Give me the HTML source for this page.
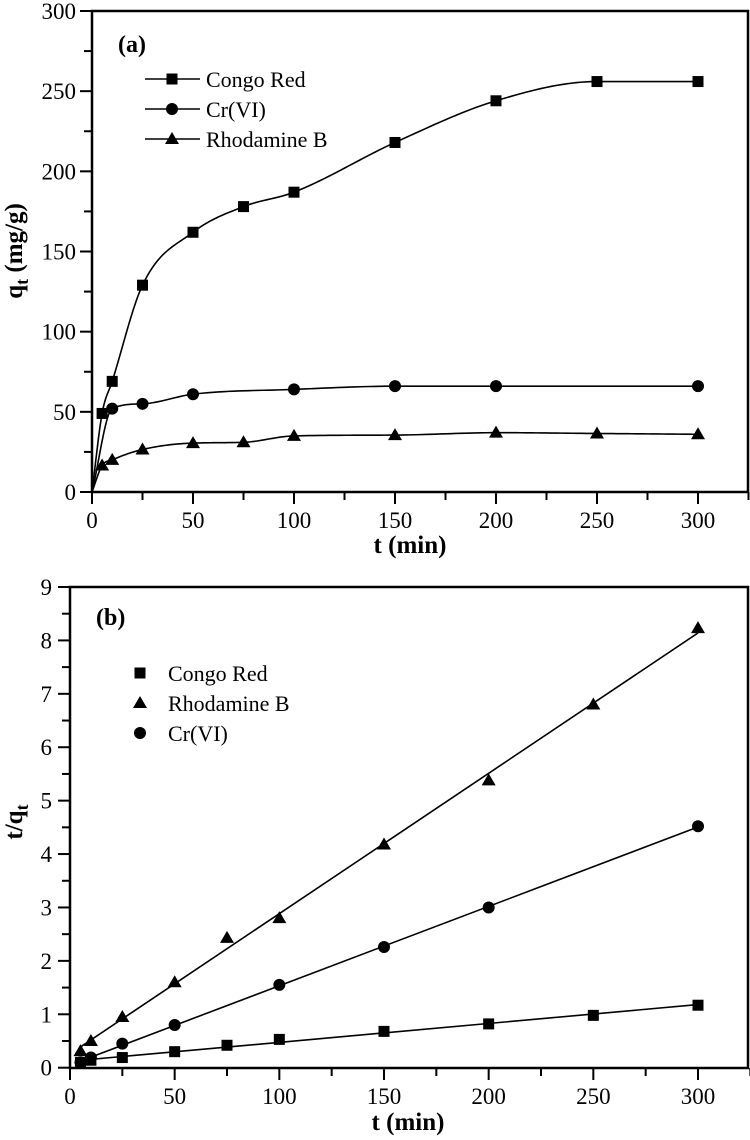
<!DOCTYPE html>
<html><head><meta charset="utf-8"><style>
html,body{margin:0;padding:0;background:#fff;}
svg{display:block;font-family:"Liberation Serif",serif;}
</style></head><body>
<svg id="chart" width="750" height="1140" viewBox="0 0 750 1140" xmlns="http://www.w3.org/2000/svg"></svg>
<script>
// ---- Panel (a) data ----
const aCongoT = [0,5,10,25,50,75,100,150,200,250,300];
const aCongoQ = [0,49,69,129,162,178,187,218,244,256,256];
const aCrT = [0,10,25,50,100,150,200,300];
const aCrQ = [0,52,55,61,64,66,66,66];
const aRhT = [0,5,10,25,50,75,100,150,200,250,300];
const aRhQ = [0,16.5,20,26.5,30.5,31,35,35.5,37,36.5,36];
const aXTicks = [0,50,100,150,200,250,300];
const aYTicks = [0,50,100,150,200,250,300];
// ---- Panel (b) data ----
const bT = [5,10,25,50,75,100,150,200,250,300];
const bCongo = [0.1,0.14,0.19,0.3,0.42,0.53,0.68,0.82,0.98,1.17];
const bRhT = [5,10,25,50,75,100,150,200,250,300];
const bRh = [0.31,0.5,0.95,1.6,2.43,2.8,4.18,5.38,6.8,8.23];
const bCrT = [5,10,25,50,100,150,200,300];
const bCr = [0.1,0.19,0.45,0.8,1.55,2.26,3.0,4.52];
const bXTicks = [0,50,100,150,200,250,300];
const bYTicks = [0,1,2,3,4,5,6,7,8,9];

const svg = document.getElementById('chart');
const NS = 'http://www.w3.org/2000/svg';
function mk(tag, attrs, parent){ const e=document.createElementNS(NS,tag); for(const k in attrs) e.setAttribute(k,attrs[k]); (parent||svg).appendChild(e); return e; }

const ax = t => 92 + t*(698-92)/300;
const ay = q => 492 - q*(492-11)/300;
const bx = t => 70 + t*(698-70)/300;
const by = v => 1067.7 - v*(1067.7-587)/9;

function marker(type,x,y,g){
  if(type==='sq') return mk('rect',{x:x-5.5,y:y-5.5,width:11,height:11,fill:'#000'},g);
  if(type==='ci') return mk('circle',{cx:x,cy:y,r:6,fill:'#000'},g);
  return mk('polygon',{points:`${x},${y-7} ${x+7},${y+5} ${x-7},${y+5}`,fill:'#000'},g);
}
// monotone cubic (Fritsch-Carlson) in data space, sampled
function monotonePath(T,Q,fx,fy){
  const n=T.length, d=[], m=new Array(n);
  for(let i=0;i<n-1;i++) d.push((Q[i+1]-Q[i])/(T[i+1]-T[i]));
  m[0]=d[0]; m[n-1]=d[n-2];
  for(let i=1;i<n-1;i++){ m[i]=(d[i-1]*d[i]<=0)?0:(d[i-1]+d[i])/2; }
  for(let i=0;i<n-1;i++){
    if(d[i]===0){m[i]=0;m[i+1]=0;continue;}
    const a=m[i]/d[i], b=m[i+1]/d[i], s=a*a+b*b;
    if(s>9){const tt=3/Math.sqrt(s); m[i]=tt*a*d[i]; m[i+1]=tt*b*d[i];}
  }
  let p=`M${fx(T[0])},${fy(Q[0])}`;
  for(let i=0;i<n-1;i++){
    const h=T[i+1]-T[i];
    for(let k=1;k<=20;k++){
      const s=k/20, h00=2*s*s*s-3*s*s+1, h10=s*s*s-2*s*s+s, h01=-2*s*s*s+3*s*s, h11=s*s*s-s*s;
      const v=h00*Q[i]+h10*h*m[i]+h01*Q[i+1]+h11*h*m[i+1];
      p+=` L${fx(T[i]+s*h).toFixed(2)},${fy(v).toFixed(2)}`;
    }
  }
  return p;
}
function frame(name,L,T,R,B){
  const f=mk('rect',{x:L,y:T,width:R-L,height:B-T,fill:'none',stroke:'#000','stroke-width':2.5});
  
  
}
function text(str,x,y,size,opts){
  const t=mk('text',Object.assign({x:x,y:y,'font-size':size,fill:'#000'},opts||{}));
  t.textContent=str; return t;
}

// ---------- Panel (a) ----------
frame('plot-frame-a',92,11,748,492);
const gAX=mk('g',{});


for(let t=0;t<=325;t+=25){
  const major=t%50===0;
  mk('line',{x1:ax(t),x2:ax(t),y1:492,y2:492+(major?12:8),stroke:'#000','stroke-width':2},gAX);
}
aXTicks.forEach(t=>{ const e=text(t,ax(t),528,23,{'text-anchor':'middle'}); gAX.appendChild(e);
    });
const gAY=mk('g',{});


for(let q=0;q<=300;q+=25){
  const major=q%50===0;
  mk('line',{x1:92,x2:92-(major?12:8),y1:ay(q),y2:ay(q),stroke:'#000','stroke-width':2},gAY);
}
aYTicks.forEach(q=>{ const e=text(q,76,ay(q)+8,23,{'text-anchor':'end'}); gAY.appendChild(e);
    });
let e;
e=text('t (min)',410,553,25,{'text-anchor':'middle','font-weight':'bold'});


e=mk('text',{x:0,y:0,'font-size':25,'font-weight':'bold','text-anchor':'middle',transform:'translate(22,251) rotate(-90)'});
e.innerHTML='q<tspan font-size="18" dy="6">t</tspan><tspan dy="-6"> (mg/g)</tspan>';


e=text('(a)',118,52,24,{'font-weight':'bold'});



function seriesA(name,T,Q,type){
  const g=mk('g',{});
  
  
  mk('path',{d:monotonePath(T,Q,ax,ay),fill:'none',stroke:'#000','stroke-width':1.6},g);
  T.forEach((t,i)=>{ if(i>0) marker(type,ax(t),ay(Q[i]),g); });
}
seriesA('series-congo-red-a',aCongoT,aCongoQ,'sq');
seriesA('series-cr-vi-a',aCrT,aCrQ,'ci');
seriesA('series-rhodamine-b-a',aRhT,aRhQ,'tr');

const legA=[['Congo Red','sq'],['Cr(VI)','ci'],['Rhodamine B','tr']];
legA.forEach((l,i)=>{
  const g=mk('g',{});
  
  
  const y=79+i*30;
  mk('line',{x1:145,x2:200,y1:y,y2:y,stroke:'#000','stroke-width':1.6},g);
  marker(l[1],172,y,g);
  const t=text(l[0],206,y+8,22,{}); g.appendChild(t);
});

// ---------- Panel (b) ----------
frame('plot-frame-b',70,587,748,1068);
const gBX=mk('g',{});


for(let t=0;t<=325;t+=25){
  const major=t%50===0;
  mk('line',{x1:bx(t),x2:bx(t),y1:1068,y2:1068+(major?12:8),stroke:'#000','stroke-width':2},gBX);
}
bXTicks.forEach(t=>{ const e=text(t,bx(t),1104,23,{'text-anchor':'middle'}); gBX.appendChild(e);
    });
const gBY=mk('g',{});


for(let v=0;v<=9;v+=0.5){
  const major=v%1===0;
  mk('line',{x1:70,x2:70-(major?12:8),y1:by(v),y2:by(v),stroke:'#000','stroke-width':2},gBY);
}
bYTicks.forEach(v=>{ const e=text(v,52,by(v)+8,23,{'text-anchor':'end'}); gBY.appendChild(e);
    });
e=text('t (min)',408,1130,25,{'text-anchor':'middle','font-weight':'bold'});


e=mk('text',{x:0,y:0,'font-size':25,'font-weight':'bold','text-anchor':'middle',transform:'translate(22,822) rotate(-90)'});
e.innerHTML='t/q<tspan font-size="18" dy="6">t</tspan>';


e=text('(b)',96,625,24,{'font-weight':'bold'});



function fit(T,V){
  const n=T.length; let sx=0,sy=0,sxx=0,sxy=0;
  for(let i=0;i<n;i++){sx+=T[i];sy+=V[i];sxx+=T[i]*T[i];sxy+=T[i]*V[i];}
  const m=(n*sxy-sx*sy)/(n*sxx-sx*sx); return [m,(sy-m*sx)/n];
}
function seriesB(name,T,V,type){
  const g=mk('g',{});
  
  
  const [m,c]=fit(T,V);
  const t0=T[0],t1=T[T.length-1];
  mk('line',{x1:bx(t0),y1:by(m*t0+c),x2:bx(t1),y2:by(m*t1+c),stroke:'#000','stroke-width':1.6},g);
  T.forEach((t,i)=>marker(type,bx(t),by(V[i]),g));
}
seriesB('series-congo-red-b',bT,bCongo,'sq');
seriesB('series-cr-vi-b',bCrT,bCr,'ci');
seriesB('series-rhodamine-b-b',bRhT,bRh,'tr');

const legB=[['Congo Red','sq'],['Rhodamine B','tr'],['Cr(VI)','ci']];
legB.forEach((l,i)=>{
  const g=mk('g',{});
  
  
  const y=673+i*30;
  marker(l[1],140,y,g);
  const t=text(l[0],168,y+8,22,{}); g.appendChild(t);
});
</script>
</body></html>
